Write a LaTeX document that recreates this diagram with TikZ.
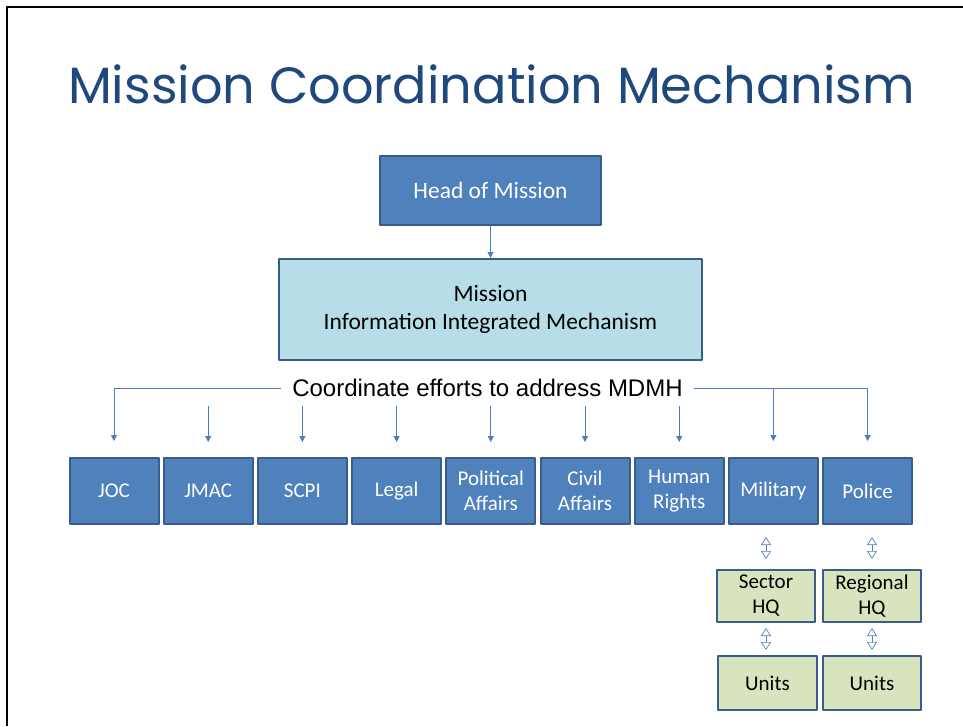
\documentclass[tikz,border=0pt]{standalone}
\usepackage{fontspec}
\setmainfont{Carlito}
\newfontfamily\titlefont{Poppins}
\newfontfamily\arialfont{Liberation Sans}
\usetikzlibrary{arrows.meta,calc}
\definecolor{titleblue}{HTML}{1F497D}
\definecolor{boxblue}{HTML}{4F81BD}
\definecolor{boxedge}{HTML}{385D8A}
\definecolor{lineblue}{HTML}{4A7EBB}
\definecolor{paleblue}{HTML}{B7DEE8}
\definecolor{palegreen}{HTML}{D7E4BD}
\begin{document}
\begin{tikzpicture}[x=1pt,y=-1pt,>={Triangle[length=6pt,width=6pt]},line join=round,
    unit/.style={draw=boxedge,line width=2pt,fill=boxblue,text=white,align=center,inner sep=0pt,font=\fontsize{21}{25}\selectfont},
    field/.style={unit,fill=palegreen,text=black},
    arr/.style={->,draw=lineblue,line width=0.9pt},
    link/.style={{Triangle[open,length=8pt,width=10pt]}-{Triangle[open,length=8pt,width=10pt]},draw=boxblue,line width=0.7pt}]
    \useasboundingbox (0,0) rectangle (963,726);
    \draw[line width=2pt] (7,726) -- (7,6.5) -- (963,6.5);
    \node[anchor=base,text=titleblue,font=\titlefont\fontsize{51}{56}\selectfont] (title) at (491.5,103) {Mission Coordination Mechanism};
    \node[unit,minimum width=221,minimum height=69,font=\fontsize{23.5}{28}\selectfont] (head) at (490.5,190.5) {Head of Mission};
    \node[unit,fill=paleblue,text=black,minimum width=423,minimum height=101,font=\fontsize{23.5}{28}\selectfont] (miim) at (490.5,309.5) {Mission\\Information Integrated Mechanism};
    \draw[arr] (head) -- (miim);
    \node[font=\arialfont\fontsize{24}{28}\selectfont,inner xsep=11pt,inner ysep=0pt] (coord) at (487.5,388) {Coordinate efforts to address MDMH};
    \foreach \n/\t [count=\i from 0] in {joc/JOC,jmac/JMAC,scpi/SCPI,legal/Legal,pol/{Political\\Affairs},civil/{Civil\\Affairs},human/{Human\\Rights},mil/Military,police/Police}
        \node[unit,minimum width=89,minimum height=66] (\n) at ({114+94.2*\i},491) {\t};
    \draw[arr,shorten >=16pt] (coord.west) -| (joc);
    \draw[arr,shorten >=16pt] (coord.east) -| (police);
    \draw[arr,shorten >=16pt] (mil |- coord) -- (mil);
    \foreach \n in {jmac,scpi,legal,pol,civil,human}
        \draw[arr,shorten <=9pt,shorten >=15pt] (\n |- coord.south) -- (\n);
    \node[field,minimum width=98,minimum height=52] (sector) at (766,596) {Sector\\HQ};
    \node[field,minimum width=98,minimum height=52] (region) at (872,596) {Regional\\HQ};
    \node[field,minimum width=99,minimum height=54] (units1) at (767.5,683) {Units};
    \node[field,minimum width=98,minimum height=54] (units2) at (872,683) {Units};
    \draw[link,shorten <=12pt,shorten >=10pt] (sector |- mil.south) -- (sector);
    \draw[link,shorten <=12pt,shorten >=10pt] (region |- police.south) -- (region);
    \draw[link,shorten <=5pt,shorten >=5pt] (sector) -- (sector |- units1.north);
    \draw[link,shorten <=5pt,shorten >=5pt] (region) -- (region |- units2.north);
\end{tikzpicture}
\end{document}
